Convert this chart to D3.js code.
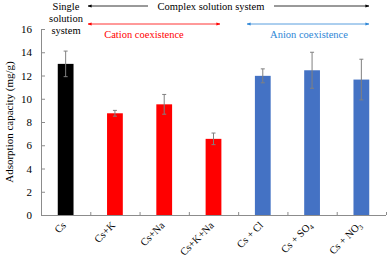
<!DOCTYPE html>
<html><head><meta charset="utf-8">
<script src="https://cdn.jsdelivr.net/npm/d3@7"></script>
<style>body{margin:0;background:#fff}svg{display:block;font-family:"Liberation Serif","Times New Roman",serif}</style>
</head><body><svg id="c" width="387" height="258"></svg>
<script>
const categories = ["Cs","Cs+K","Cs+Na","Cs+K+Na","Cs + Cl","Cs + SO4","Cs + NO3"];
const values = [13.0, 8.75, 9.52, 6.55, 11.97, 12.45, 11.65];
const errors = [1.1, 0.25, 0.85, 0.5, 0.6, 1.55, 1.75];
const groups = ["single","cation","cation","cation","anion","anion","anion"];
const yTicks = [0,2,4,6,8,10,12,14,16];

const colors = {single:"#000000", cation:"#FF0000", anion:"#4472C4"};
const svg = d3.select("#c");
const x = d3.scaleBand().domain(categories).range([41,386]).paddingInner(0.68).paddingOuter(0.34);
const y = d3.scaleLinear().domain([0,16]).range([215,29]);
const axisColor = "#8c8c8c";

// axes
const ya = svg.append("g").attr("transform","translate(41,0)")
  .call(d3.axisLeft(y).tickValues(yTicks).tickSize(-4).tickPadding(9).tickSizeOuter(0));
ya.select(".domain").attr("stroke",axisColor);
ya.selectAll(".tick line").attr("stroke",axisColor);
ya.selectAll("text").attr("font-size",11).attr("font-family","Liberation Serif").attr("fill","#000");

// x axis baseline
svg.append("line").attr("x1",41).attr("x2",386).attr("y1",215.5).attr("y2",215.5).attr("stroke",axisColor);
const step = x.step();
const bounds = categories.map((c,i)=> x(c) - (step - x.bandwidth())/2).slice(1);
bounds.push(386);
svg.selectAll(".xt").data(bounds).join("line").attr("x1",d=>d+0.5).attr("x2",d=>d+0.5)
  .attr("y1",215).attr("y2",212).attr("stroke",axisColor);

// bars
svg.selectAll(".bar").data(categories).join("rect")
  .attr("x",d=>x(d)).attr("width",x.bandwidth())
  .attr("y",(d,i)=>y(values[i])).attr("height",(d,i)=>y(0)-y(values[i]))
  .attr("fill",(d,i)=>colors[groups[i]]);

// error bars
const eb = svg.append("g").attr("stroke","#808080").attr("stroke-width",1);
categories.forEach((c,i)=>{
  const cx = x(c)+x.bandwidth()/2;
  eb.append("line").attr("x1",cx).attr("x2",cx).attr("y1",y(values[i]+errors[i])).attr("y2",y(values[i]-errors[i]));
  [values[i]+errors[i], values[i]-errors[i]].forEach(v=>{
    eb.append("line").attr("x1",cx-2).attr("x2",cx+2).attr("y1",y(v)).attr("y2",y(v));
  });
});

// x labels
categories.forEach((c,i)=>{
  const cx = x(c)+x.bandwidth()/2+1;
  const t = svg.append("text").attr("transform",`translate(${cx},226) rotate(-45)`)
    .attr("text-anchor","end").attr("font-size",10.5).attr("fill","#000");
  const m = c.match(/^(.*?)(\d)$/);
  if (m) {
    t.append("tspan").text(m[1]);
    t.append("tspan").attr("font-size",7).attr("dy",2).text(m[2]);
  } else t.text(c);
});

// y label
svg.append("text").attr("transform","translate(13,122) rotate(-90)").attr("text-anchor","middle")
  .attr("font-size",11).attr("fill","#000").text("Adsorption capacity (mg/g)");

// top annotations
const defs = svg.append("defs");
function marker(id,color){
  defs.append("marker").attr("id",id).attr("viewBox","0 0 10 10").attr("refX",9).attr("refY",5)
    .attr("markerWidth",5).attr("markerHeight",5).attr("orient","auto-start-reverse")
    .append("path").attr("d","M0,1.5L10,5L0,8.5Z").attr("fill",color);
}
marker("mk","#000"); marker("mr","#FF0000"); marker("mb","#2E86D6");

["Single","solution","system"].forEach((s,i)=>{
  svg.append("text").attr("x",66).attr("y",10+i*12).attr("text-anchor","middle").attr("font-size",10.5).text(s);
});
svg.append("line").attr("x1",148).attr("x2",88).attr("y1",6).attr("y2",6).attr("stroke","#000").attr("stroke-width",0.8).attr("marker-end","url(#mk)");
svg.append("text").attr("x",211).attr("y",10).attr("text-anchor","middle").attr("font-size",10.5).text("Complex solution system");
svg.append("line").attr("x1",274).attr("x2",369).attr("y1",6).attr("y2",6).attr("stroke","#000").attr("stroke-width",0.8).attr("marker-end","url(#mk)");

svg.append("line").attr("x1",88).attr("x2",220).attr("y1",24).attr("y2",24).attr("stroke","#FF0000").attr("stroke-width",0.8)
  .attr("marker-start","url(#mr)").attr("marker-end","url(#mr)");
svg.append("text").attr("x",144).attr("y",38).attr("text-anchor","middle").attr("font-size",10.5).attr("fill","#FF0000").text("Cation coexistence");
svg.append("line").attr("x1",247).attr("x2",369).attr("y1",24).attr("y2",24).attr("stroke","#2E86D6").attr("stroke-width",0.8)
  .attr("marker-start","url(#mb)").attr("marker-end","url(#mb)");
svg.append("text").attr("x",309).attr("y",38).attr("text-anchor","middle").attr("font-size",10.5).attr("fill","#2E86D6").text("Anion coexistence");
</script></body></html>
